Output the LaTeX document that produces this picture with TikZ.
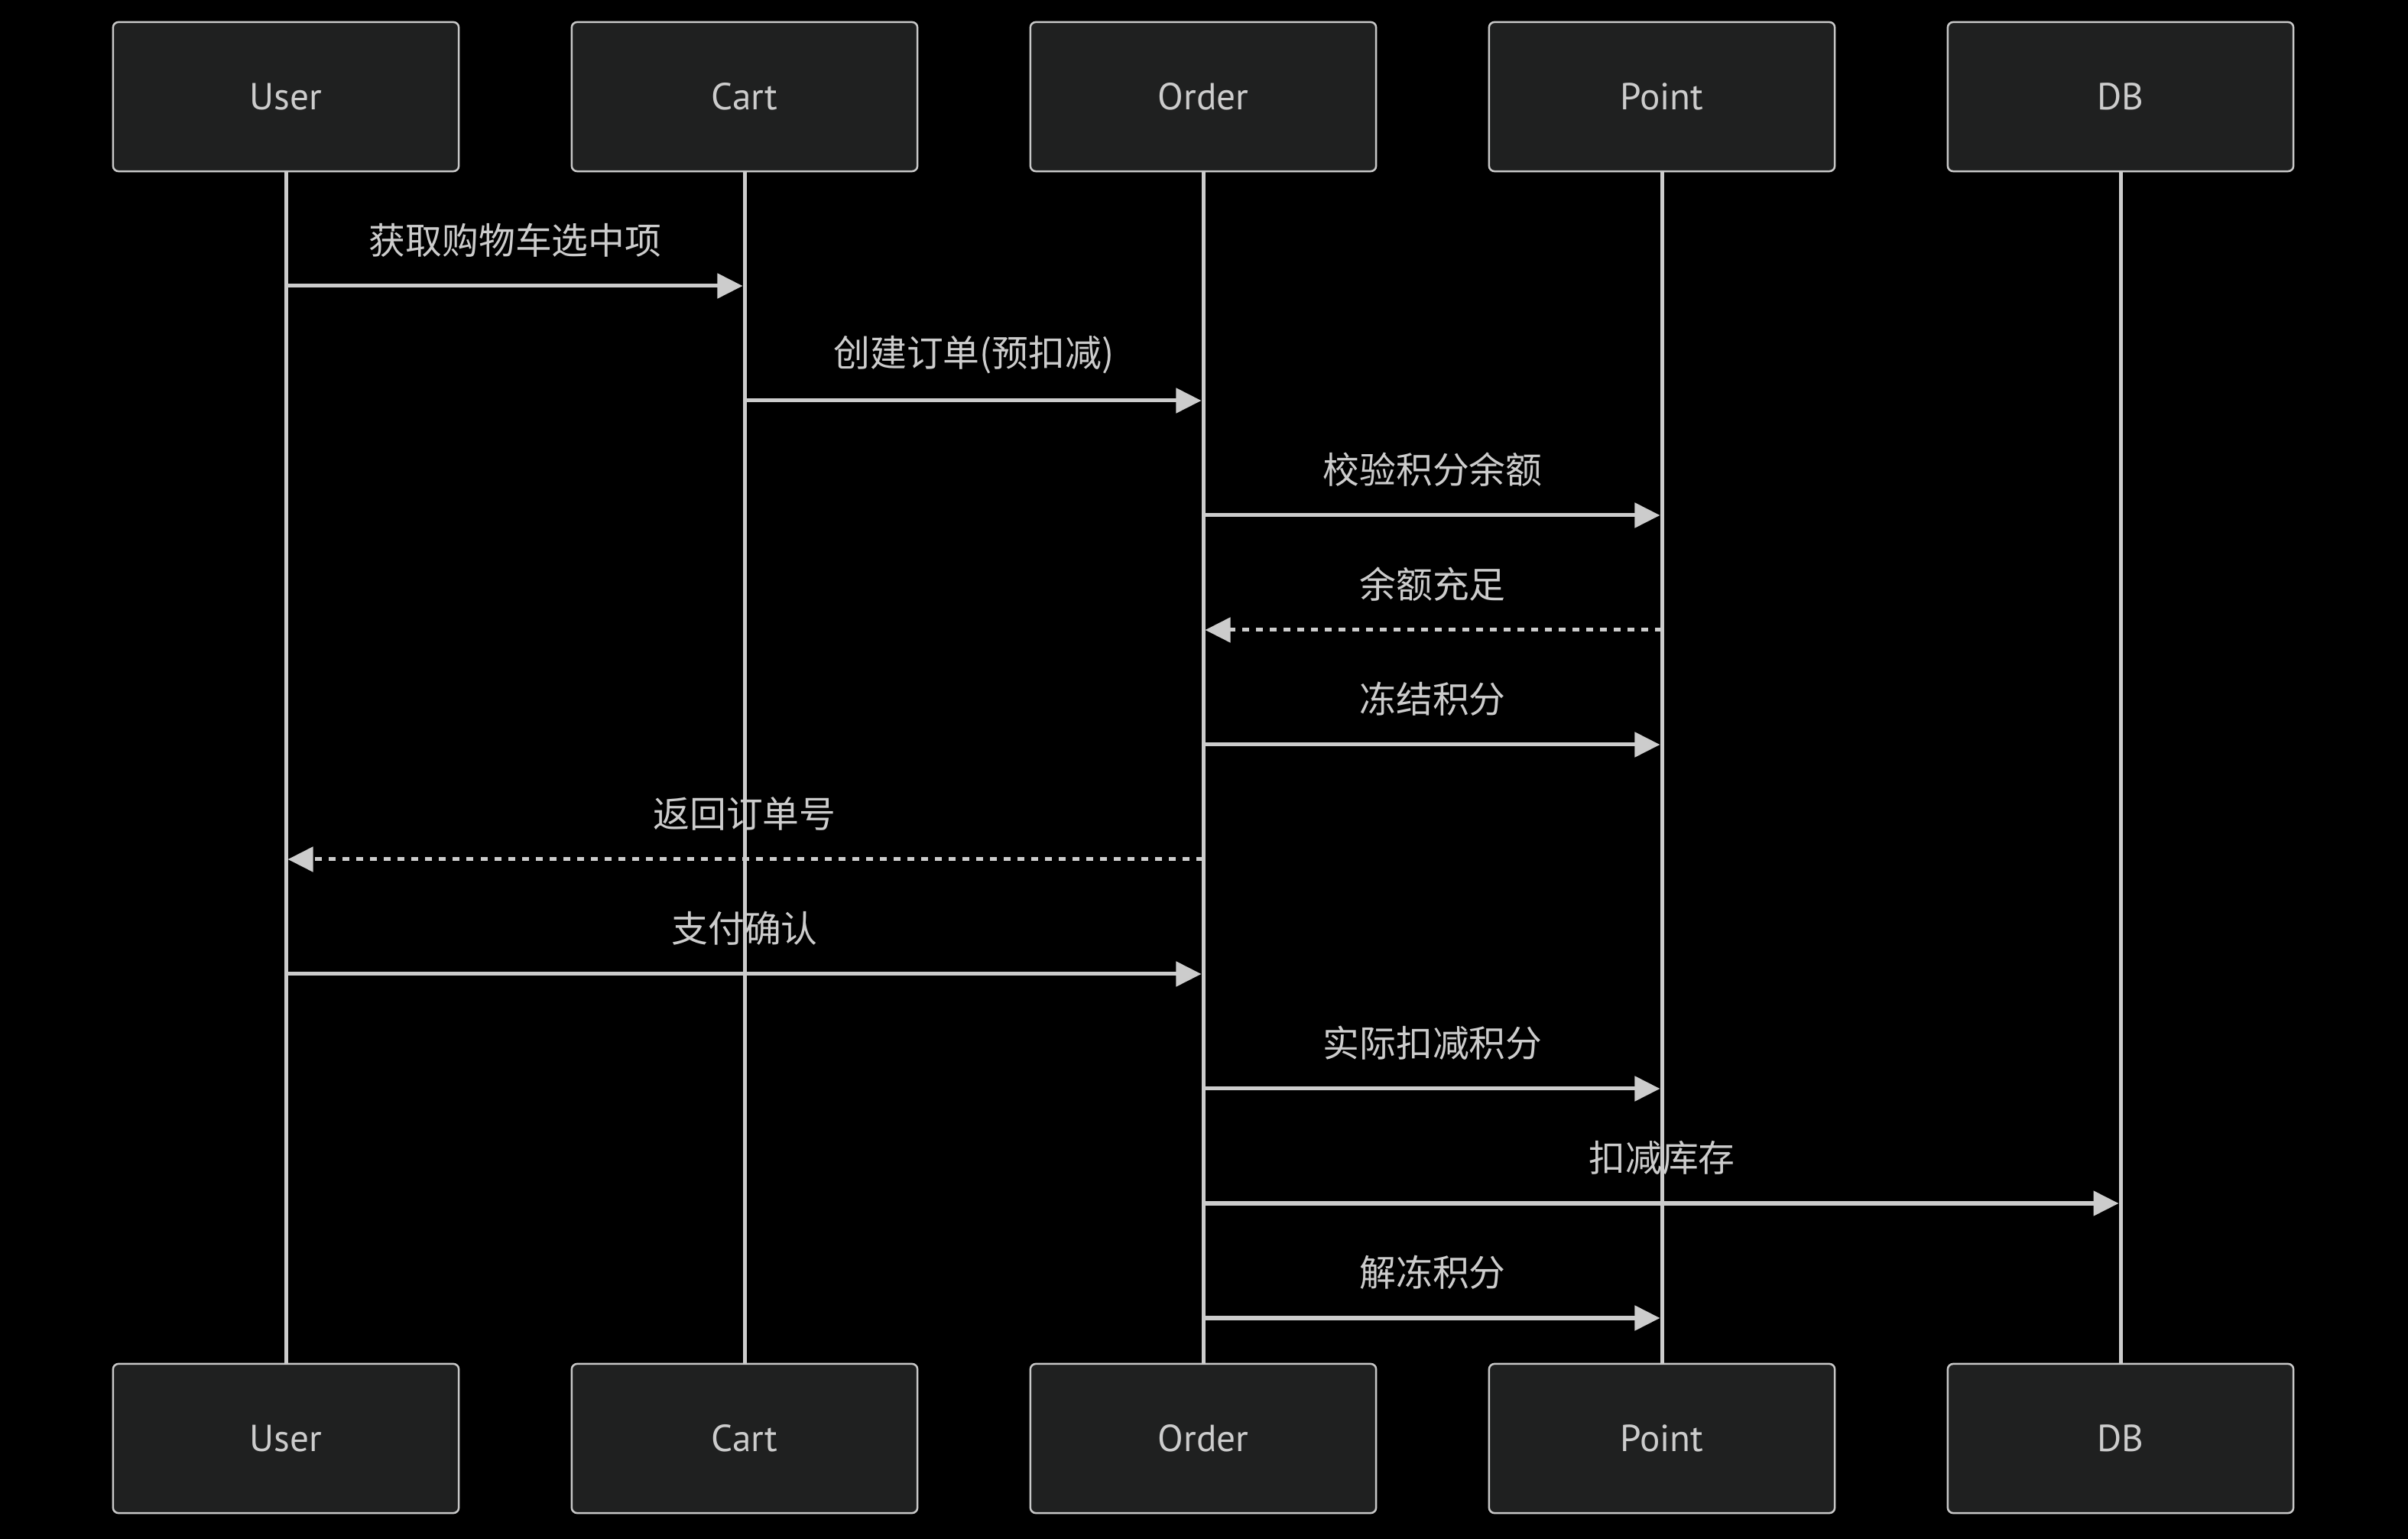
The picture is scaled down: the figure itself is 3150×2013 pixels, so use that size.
\documentclass[tikz,border=0pt]{standalone}
\usepackage{fontspec}
\setmainfont{PT Sans}
\newfontfamily\cjkfont{Noto Sans CJK SC}
\usetikzlibrary{arrows.meta}

\definecolor{bgblack}{HTML}{000000}
\definecolor{boxfill}{HTML}{1F2020}
\definecolor{boxline}{HTML}{C8C8C8}
\definecolor{inkgray}{HTML}{CCCCCC}

\tikzset{
  actor/.style={draw=boxline, fill=boxfill, line width=0.025cm, rounded corners=0.07cm,
    minimum width=4.52cm, minimum height=1.95cm, inner sep=0pt,
    text=inkgray, font=\fontsize{14}{16}\selectfont},
  lifeline/.style={draw=inkgray, line width=0.05cm},
  msg/.style={draw=inkgray, line width=0.05cm, shorten >=0.025cm,
    -{Triangle[length=0.33cm,width=0.32cm]}},
  reply/.style={msg, dash pattern=on 0.09cm off 0.09cm},
  msglabel/.style={text=inkgray, font=\cjkfont\fontsize{13.6}{16}\selectfont, inner sep=0pt}
}

\begin{document}
\begin{tikzpicture}[x=0.01cm,y=-0.01cm]
  \fill[bgblack] (0,0) rectangle (3150,2013);
  \useasboundingbox (0,0) rectangle (3150,2013);

  % participants, top and bottom
  \foreach \nm/\lbl [count=\i from 0] in {u/User,c/Cart,o/Order,p/Point,d/DB} {
    \node[actor] (\nm Top) at (374+600*\i,126.5) {\lbl};
    \node[actor] (\nm Bot) at (374+600*\i,1881.5) {\lbl};
  }

  % messages
  \foreach \src/\dst/\yy/\txt/\sty in {
      u/c/374/获取购物车选中项/msg,
      c/o/524/创建订单(预扣减)/msg,
      o/p/674/校验积分余额/msg,
      p/o/824/余额充足/reply,
      o/p/974/冻结积分/msg,
      o/u/1124/返回订单号/reply,
      u/o/1274/支付确认/msg,
      o/p/1424/实际扣减积分/msg,
      o/d/1574/扣减库存/msg,
      o/p/1724/解冻积分/msg} {
    \draw[\sty] (\src Top |- 0,\yy) -- (\dst Top |- 0,\yy)
      node[msglabel, midway, yshift=0.6cm] {\txt};
  }

  % lifelines
  \foreach \nm in {u,c,o,p,d} {
    \draw[lifeline] (\nm Top) -- (\nm Bot);
  }
\end{tikzpicture}
\end{document}
